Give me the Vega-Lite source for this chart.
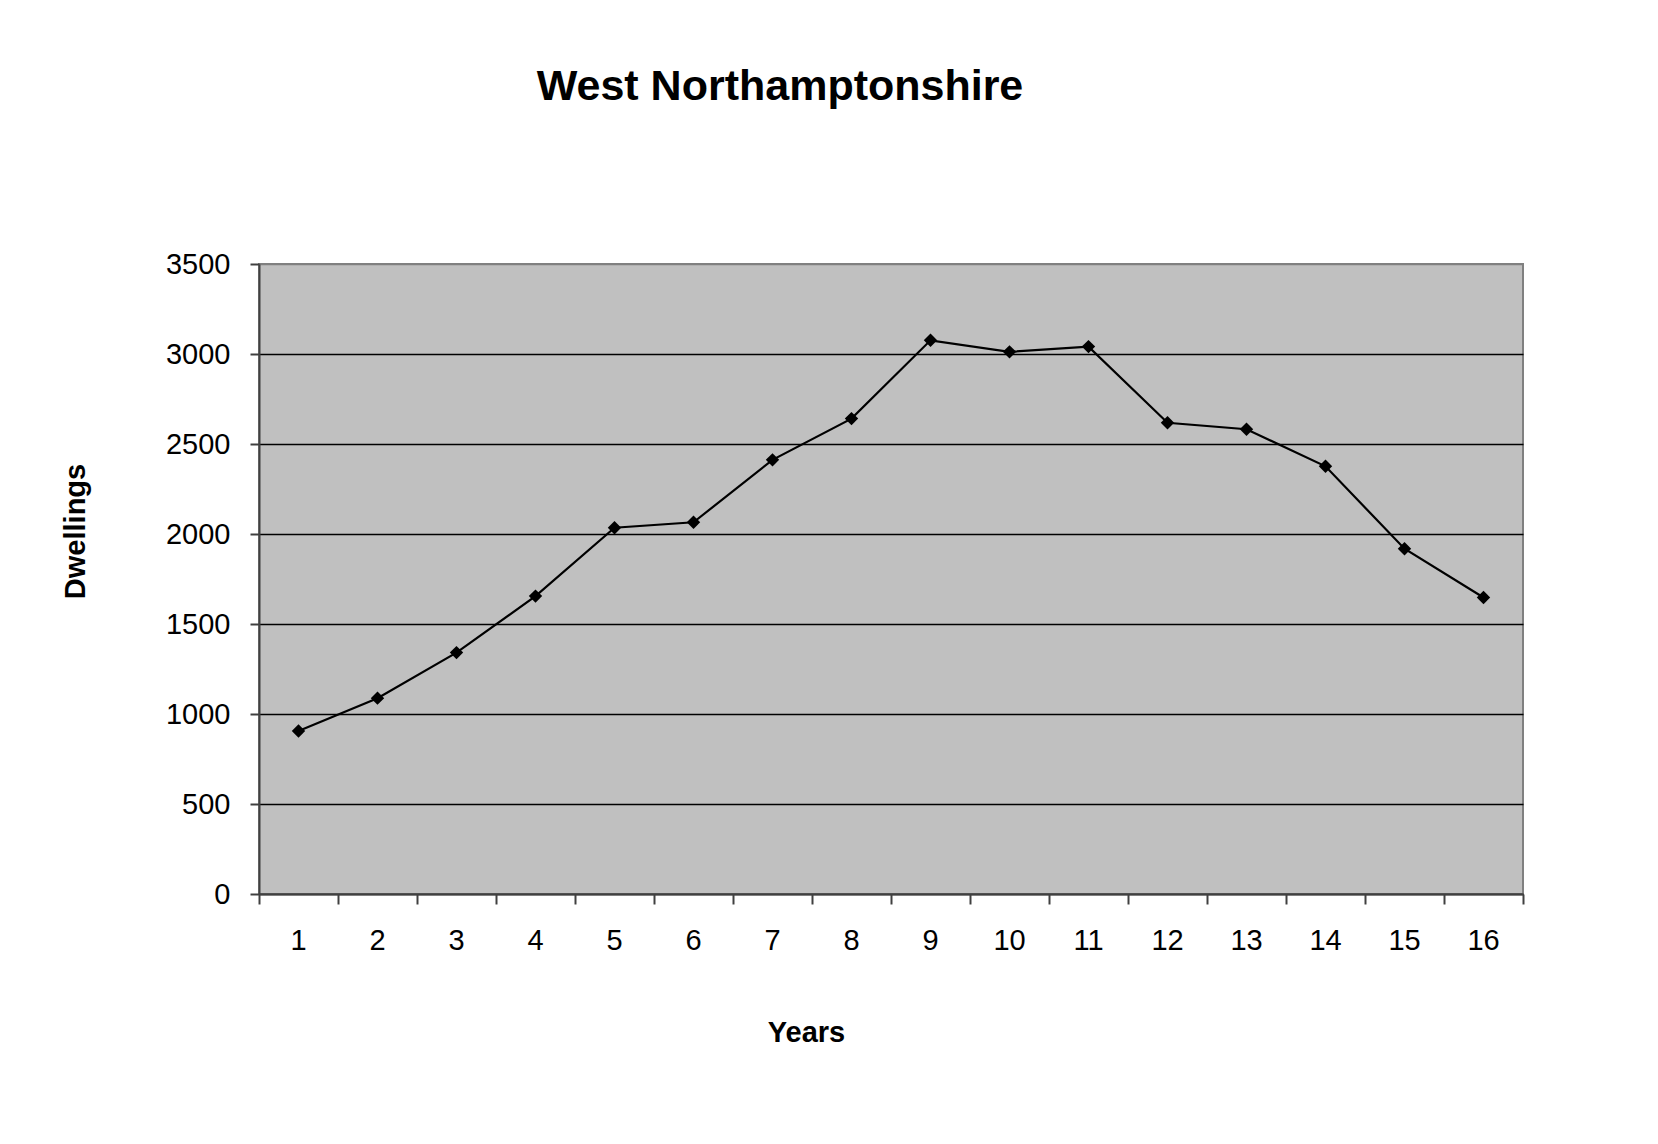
{
  "$schema": "https://vega.github.io/schema/vega-lite/v6.json",
  "width": 1264,
  "height": 630,
  "autosize": {"type": "none"},
  "padding": {"left": 259, "top": 264, "right": 135, "bottom": 250},
  "background": "white",
  "title": {
    "text": "West Northamptonshire",
    "font": "Liberation Sans",
    "fontSize": 43,
    "fontWeight": "bold",
    "color": "black",
    "anchor": "middle",
    "frame": "group",
    "dx": -111,
    "offset": 141
  },
  "data": {
    "values": [
      {"year": 1, "dwellings": 906},
      {"year": 2, "dwellings": 1088},
      {"year": 3, "dwellings": 1341},
      {"year": 4, "dwellings": 1655},
      {"year": 5, "dwellings": 2035},
      {"year": 6, "dwellings": 2065},
      {"year": 7, "dwellings": 2412},
      {"year": 8, "dwellings": 2641},
      {"year": 9, "dwellings": 3076},
      {"year": 10, "dwellings": 3012},
      {"year": 11, "dwellings": 3041},
      {"year": 12, "dwellings": 2618},
      {"year": 13, "dwellings": 2582},
      {"year": 14, "dwellings": 2376},
      {"year": 15, "dwellings": 1918},
      {"year": 16, "dwellings": 1647}
    ]
  },
  "encoding": {
    "x": {
      "field": "year",
      "type": "ordinal",
      "scale": {"type": "band", "paddingInner": 0, "paddingOuter": 0},
      "axis": {
        "title": "Years",
        "labelAngle": 0,
        "bandPosition": 1,
        "tickExtra": true,
        "labelOffset": 0,
        "tickSize": 10,
        "tickColor": "#404040",
        "tickWidth": 2,
        "domainColor": "#404040",
        "domainWidth": 2,
        "labelPadding": 22,
        "labelFont": "Liberation Sans",
        "labelFontSize": 29,
        "labelColor": "black",
        "titleFont": "Liberation Sans",
        "titleFontSize": 29,
        "titleFontWeight": "bold",
        "titleColor": "black",
        "titleBaseline": "alphabetic",
        "titleX": 547,
        "titleY": 147,
        "grid": false
      }
    },
    "y": {
      "field": "dwellings",
      "type": "quantitative",
      "scale": {"domain": [0, 3500], "nice": false},
      "axis": {
        "title": "Dwellings",
        "format": "d",
        "values": [0, 500, 1000, 1500, 2000, 2500, 3000, 3500],
        "tickSize": 9,
        "tickColor": "#404040",
        "tickWidth": 2,
        "domainColor": "#404040",
        "domainWidth": 2,
        "labelPadding": 20,
        "labelFont": "Liberation Sans",
        "labelFontSize": 29,
        "labelColor": "black",
        "titleFont": "Liberation Sans",
        "titleFontSize": 29,
        "titleFontWeight": "bold",
        "titleColor": "black",
        "titleBaseline": "alphabetic",
        "titleAngle": -90,
        "titleX": -175,
        "titleY": 267,
        "grid": true,
        "gridColor": {"condition": {"test": "datum.value === 3500", "value": "#808080"}, "value": "black"},
        "gridWidth": 1.5
      }
    }
  },
  "layer": [
    {
      "mark": {"type": "line", "color": "black", "strokeWidth": 2.2}
    },
    {
      "mark": {"type": "point", "shape": "diamond", "filled": true, "color": "black", "size": 180, "opacity": 1}
    }
  ],
  "config": {
    "view": {"fill": "#C0C0C0", "stroke": "#808080", "strokeWidth": 2}
  }
}
